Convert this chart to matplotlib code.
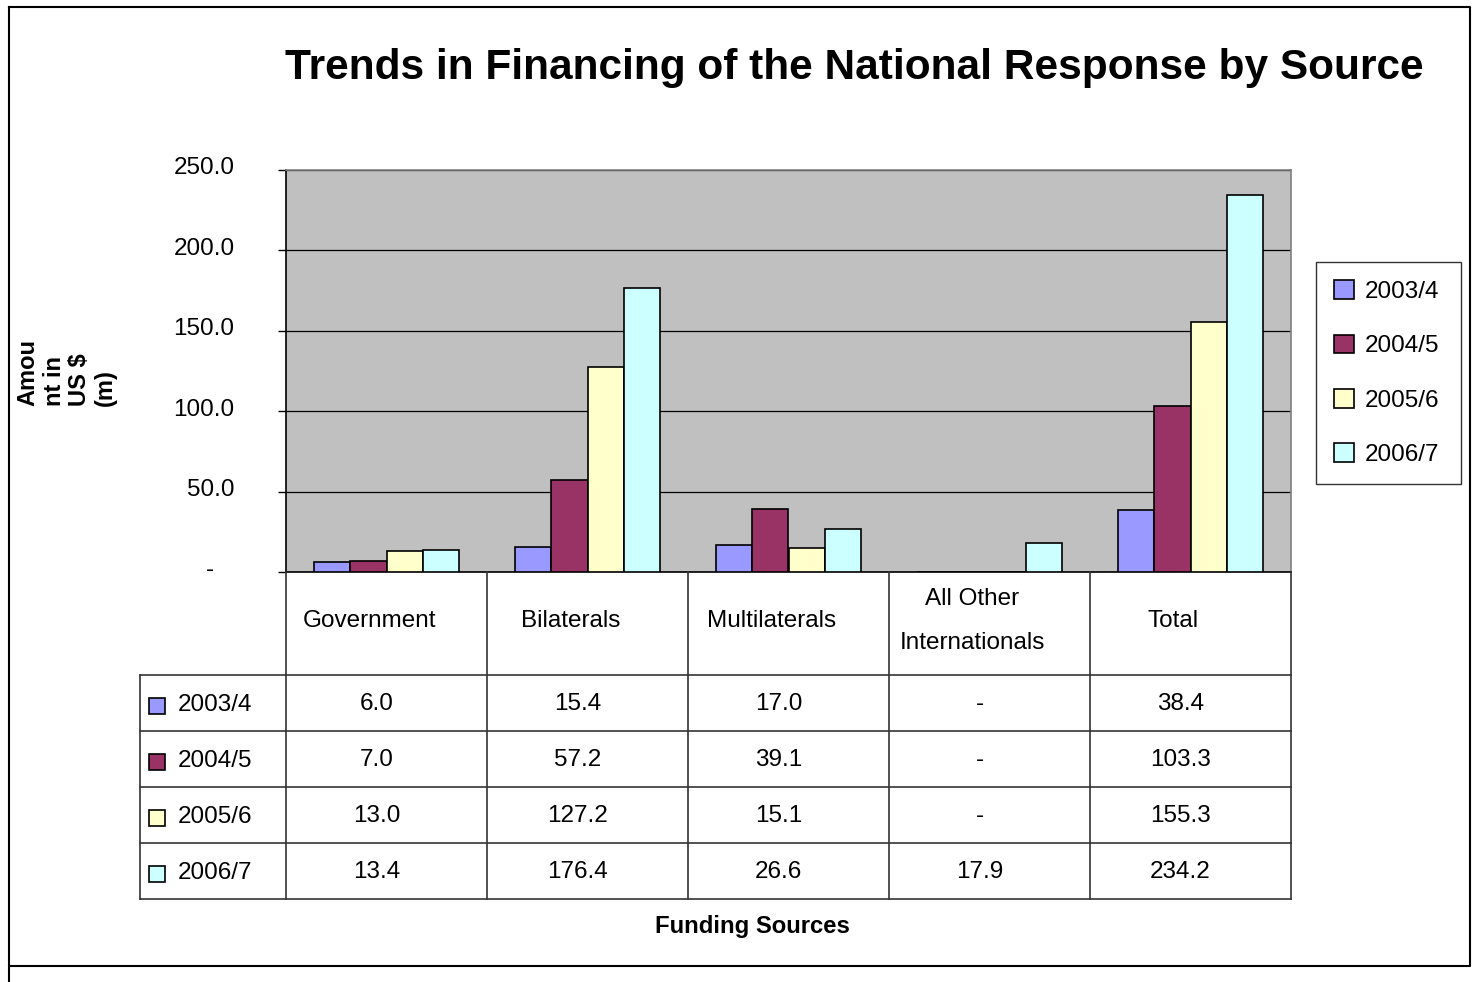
import numpy as np
import matplotlib
matplotlib.use('Agg')
import matplotlib.pyplot as plt
import matplotlib.transforms as mtransforms
from matplotlib.patches import Patch
from matplotlib.lines import Line2D

plt.rcParams['font.family'] = ['Liberation Sans', 'DejaVu Sans']

# 데이터
categories = ['Government', 'Bilaterals', 'Multilaterals', 'All Other\nInternationals', 'Total']
years = ['2003/4', '2004/5', '2005/6', '2006/7']
v_2003 = [6.0, 15.4, 17.0, 0.0, 38.4]
v_2004 = [7.0, 57.2, 39.1, 0.0, 103.3]
v_2005 = [13.0, 127.2, 15.1, 0.0, 155.3]
v_2006 = [13.4, 176.4, 26.6, 17.9, 234.2]
series = [v_2003, v_2004, v_2005, v_2006]
colors = ['#9999FF', '#993366', '#FFFFCC', '#CCFFFF']
yticks = [0, 50, 100, 150, 200, 250]
ytick_labels = ['-   ', '50.0', '100.0', '150.0', '200.0', '250.0']

W, H = 1474, 982
FS = 17.5
fig = plt.figure(figsize=(W / 100, H / 100), dpi=100)


def fx(px):
    return px / W


def fy(py):
    return 1 - py / H


# 메인 막대 그래프
ax = fig.add_axes([fx(286), fy(572), fx(1291) - fx(286), fy(170) - fy(572)])
ax.set_facecolor('#C0C0C0')
n = len(categories)
x = np.arange(n)
width = 0.18
for i, (vals, c) in enumerate(zip(series, colors)):
    ax.bar(x + (i - 1.5) * width, vals, width, color=c, edgecolor='black', linewidth=1.2,
           label=years[i], zorder=3)
ax.set_xlim(-0.5, n - 0.5)
ax.set_ylim(0, 250)
ax.set_yticks(yticks)
ax.set_yticklabels(ytick_labels, fontsize=FS)
ax.tick_params(axis='y', length=6, width=1, pad=31, direction='out')
# 엑셀처럼 눈금 라벨을 살짝 위로
shift = mtransforms.ScaledTranslation(0, 4 / 100, fig.dpi_scale_trans)
for lab in ax.get_yticklabels():
    lab.set_transform(lab.get_transform() + shift)
ax.set_xticks([])
ax.grid(axis='y', color='black', linewidth=0.9, zorder=1)
ax.spines['left'].set_color('black')
ax.spines['bottom'].set_color('black')
ax.spines['top'].set_color('#808080')
ax.spines['right'].set_color('#808080')
for s in ax.spines.values():
    s.set_linewidth(1.2)

# 범례
handles = [Patch(facecolor=c, edgecolor='black', linewidth=1.2) for c in colors]
leg = fig.legend(handles, years, loc='upper left',
                 bbox_to_anchor=(fx(1316), fy(477), fx(1461) - fx(1316), fy(262) - fy(477)),
                 mode='expand', fontsize=FS, frameon=True, fancybox=False,
                 handlelength=0.8, handleheight=0.8, handletextpad=0.45,
                 labelspacing=1.3, borderpad=0.75, borderaxespad=0)
leg.get_frame().set_edgecolor('black')
leg.get_frame().set_linewidth(1)

# 데이터 테이블 (y는 위에서부터 픽셀 단위)
tab = fig.add_axes([fx(140), fy(899), fx(1291) - fx(140), fy(572) - fy(899)])
label_w = 146 / 201
tab.set_xlim(-0.5 - label_w, n - 0.5)
tab.set_ylim(327, 0)
tab.axis('off')
head_h = 103
row_h = 56
lc = '#333333'
bounds = np.arange(n + 1) - 0.5
for b in bounds:
    tab.plot([b, b], [0, 327], color=lc, lw=1.2, clip_on=False)
tab.plot([-0.5 - label_w] * 2, [head_h, 327], color=lc, lw=1.2, clip_on=False)
for r in range(len(years) + 1):
    yy = head_h + r * row_h
    tab.plot([-0.5 - label_w, n - 0.5], [yy, yy], color=lc, lw=1.2, clip_on=False)

for j, cat in enumerate(categories):
    tab.text(j - 0.085, 49, cat, ha='center', va='center', fontsize=FS, linespacing=2.25)

for i, vals in enumerate(series):
    yc = head_h + (i + 0.5) * row_h
    tab.plot(-0.5 - label_w + 16.5 / 201, yc + 3, marker='s', ms=12, mfc=colors[i],
             mec='black', mew=1.2, clip_on=False)
    tab.text(-0.5 - label_w + 38 / 201, yc + 2, years[i], ha='left', va='center', fontsize=FS)
    for j, v in enumerate(vals):
        txt = f'{v:.1f}' if v > 0 else '-'
        tab.text(j - 0.05, yc + 1, txt, ha='center', va='center', fontsize=FS)

# 제목 / 축 라벨
fig.text(fx(854), fy(68), 'Trends in Financing of the National Response by Source',
         ha='center', va='center', fontsize=30.5, fontweight='bold')
fig.text(fx(67), fy(372), 'Amou\nnt in\nUS $\n(m)', rotation=90, ha='center', va='center',
         multialignment='left', fontsize=17, fontweight='bold', linespacing=1.16)
fig.text(fx(752), fy(927), 'Funding Sources', ha='center', va='center',
         fontsize=17.2, fontweight='bold')

# 바깥 테두리
frame = [(9, 7), (1470, 7), (1470, 966), (9, 966), (9, 7)]
fig.add_artist(Line2D([fx(p[0]) for p in frame], [fy(p[1]) for p in frame],
                      color='black', lw=1.5))
fig.add_artist(Line2D([fx(9), fx(9)], [fy(966), fy(982)], color='black', lw=1.5))

plt.savefig('out.png', dpi=100)
plt.close()
